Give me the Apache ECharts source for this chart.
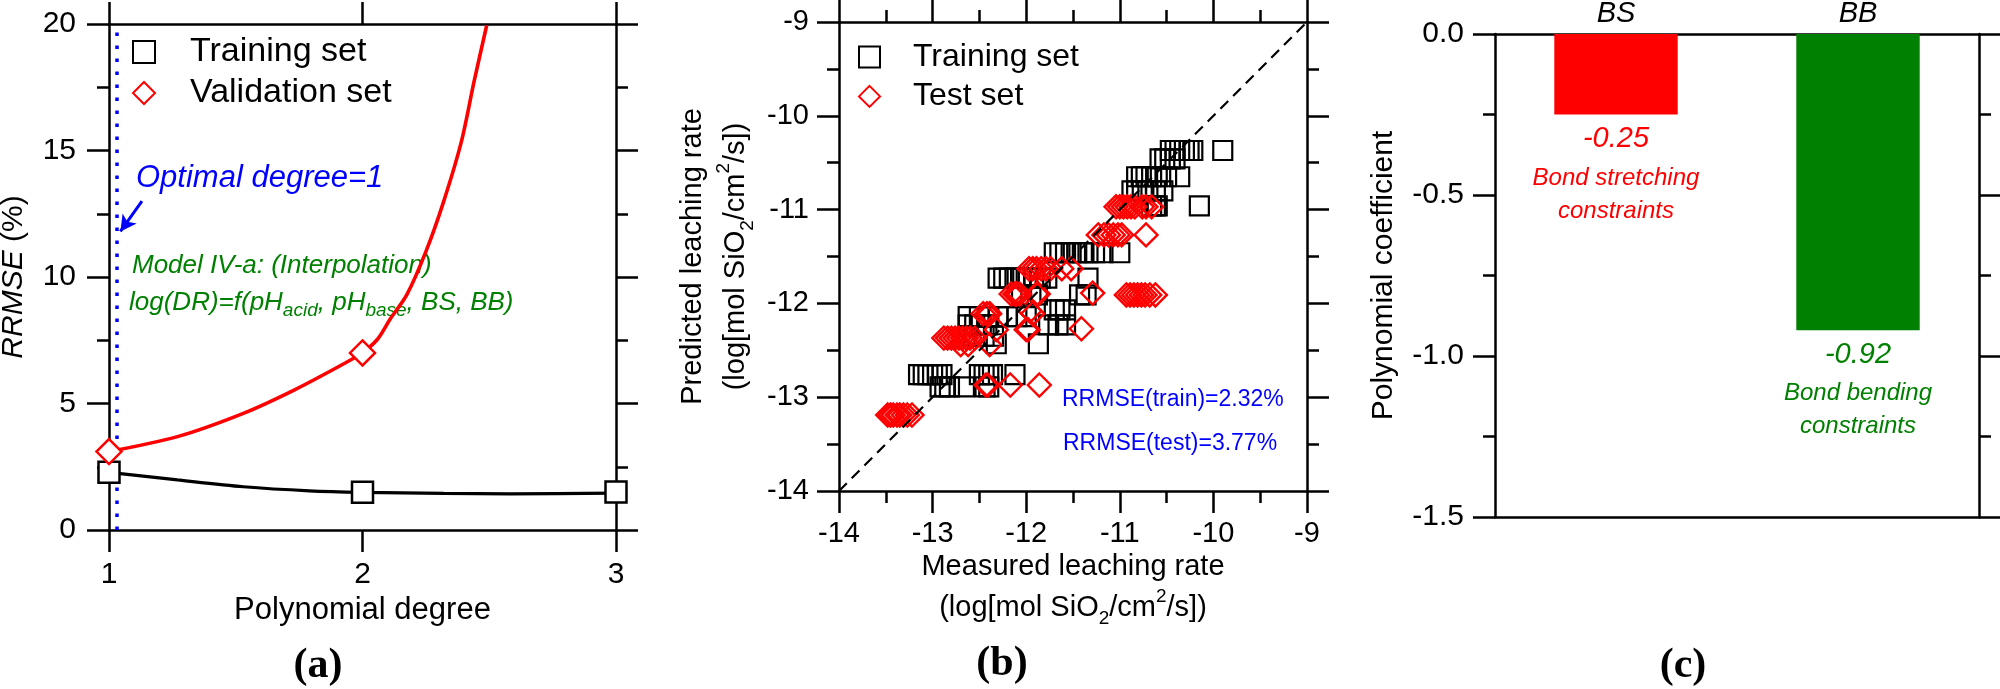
<!DOCTYPE html>
<html>
<head>
<meta charset="utf-8">
<title>RRMSE / leaching rate / coefficients</title>
<script src="https://cdn.jsdelivr.net/npm/echarts/dist/echarts.min.js"></script>
<style>
  html, body { margin: 0; padding: 0; background: #fff; }
  #chart { width: 2000px; height: 689px; }
</style>
</head>
<body>
<div id="chart"></div>
<script>
// ---- (a) RRMSE vs polynomial degree ----
var degrees = [1, 2, 3];
var trainRRMSE = [2.28, 1.49, 1.5];
var validRRMSE = [3.1, 7.0, '-'];          // degree 3 is above the axis range
// fitted curves
var trainCurveX = [1.0, 1.27, 1.53, 1.79, 2.0, 2.32, 2.58, 3.0];
var trainCurveY = [2.28, 1.98, 1.71, 1.55, 1.49, 1.45, 1.43, 1.46];
var validCurveX = [1.0, 1.27, 1.53, 1.73, 1.93, 2.0, 2.06, 2.11, 2.175, 2.25, 2.32, 2.39, 2.44, 2.49];
var validCurveY = [3.1, 3.69, 4.61, 5.53, 6.59, 7.01, 7.55, 8.35, 9.3, 11.0, 12.98, 15.35, 17.72, 19.95];
var optimalLineX = 1.03;
var arrowStart = [1.13, 13.0];
var arrowEnd = [1.045, 11.8];

// ---- (b) predicted vs measured leaching rate ----
var trainMeasured = [
  -10.46, -10.41, -10.36, -10.31, -10.26, -10.22, -9.90,
  -10.57, -10.52, -10.46, -10.41,
  -10.82, -10.77, -10.72, -10.66, -10.60, -10.50, -10.36,
  -10.87, -10.82, -10.76, -10.70, -10.62, -10.54,
  -10.66, -10.62, -10.60, -10.15,
  -11.70, -11.64, -11.58, -11.52, -11.46, -11.40, -11.34, -11.27, -11.18, -11.00,
  -12.30, -12.24, -12.18, -12.12, -12.06, -12.00, -11.92, -11.85, -11.78, -11.34,
  -12.05, -11.95, -11.88, -11.43, -11.36,
  -11.70, -11.64, -11.58,
  -12.62, -12.50, -12.40, -12.30, -12.20, -12.10, -12.00,
  -12.62, -12.55, -12.48, -12.42, -11.76, -11.66, -11.58,
  -12.55, -12.45, -12.35,
  -12.32, -11.87,
  -13.15, -13.10, -13.05, -13.00, -12.95, -12.90, -12.50, -12.45, -12.40, -12.36, -12.12,
  -12.92, -12.87, -12.82, -12.66, -12.44, -12.40
];
var trainPredicted = [
  -10.37, -10.37, -10.37, -10.37, -10.37, -10.37, -10.37,
  -10.46, -10.46, -10.46, -10.46,
  -10.65, -10.65, -10.65, -10.65, -10.65, -10.65, -10.65,
  -10.80, -10.80, -10.80, -10.80, -10.80, -10.80,
  -10.96, -10.96, -10.96, -10.96,
  -11.46, -11.46, -11.46, -11.46, -11.46, -11.46, -11.46, -11.46, -11.46, -11.46,
  -11.73, -11.73, -11.73, -11.73, -11.73, -11.73, -11.73, -11.73, -11.73, -11.73,
  -11.91, -11.91, -11.91, -11.91, -11.91,
  -12.07, -12.07, -12.07,
  -12.14, -12.14, -12.14, -12.14, -12.14, -12.14, -12.14,
  -12.23, -12.23, -12.23, -12.23, -12.23, -12.23, -12.23,
  -12.35, -12.35, -12.35,
  -12.43, -12.43,
  -12.76, -12.76, -12.76, -12.76, -12.76, -12.76, -12.76, -12.76, -12.76, -12.76, -12.76,
  -12.89, -12.89, -12.89, -12.89, -12.89, -12.89
];
var testMeasured = [
  -13.48, -13.45, -13.42, -13.38, -13.35, -13.31, -13.27, -13.22,
  -12.43, -12.41, -12.17, -11.86,
  -12.88, -12.84, -12.80, -12.76, -12.72, -12.68, -12.64, -12.60, -12.55,
  -12.70, -12.62, -12.39,
  -12.32, -12.00, -11.98, -11.41,
  -12.46, -12.42, -12.39, -11.93, -11.96,
  -12.16, -12.12, -12.10, -12.07, -11.89, -11.87, -11.29,
  -10.93, -10.89, -10.85, -10.81, -10.77, -10.73, -10.68, -10.62,
  -11.97, -11.93, -11.89, -11.84, -11.79, -11.74, -11.62, -11.52,
  -11.23, -11.17, -11.12, -11.07, -11.02, -10.98, -10.72,
  -11.04, -11.00, -10.96, -10.92, -10.88, -10.84, -10.76, -10.72, -10.66
];
var testPredicted = [
  -13.19, -13.19, -13.19, -13.19, -13.19, -13.19, -13.19, -13.19,
  -12.87, -12.87, -12.87, -12.87,
  -12.37, -12.37, -12.37, -12.37, -12.37, -12.37, -12.37, -12.37, -12.37,
  -12.44, -12.44, -12.44,
  -12.28, -12.28, -12.28, -12.27,
  -12.11, -12.11, -12.11, -12.11, -12.08,
  -11.90, -11.90, -11.90, -11.90, -11.90, -11.90, -11.89,
  -11.91, -11.91, -11.91, -11.91, -11.91, -11.91, -11.91, -11.91,
  -11.63, -11.63, -11.63, -11.63, -11.63, -11.63, -11.63, -11.63,
  -11.27, -11.27, -11.27, -11.27, -11.27, -11.27, -11.27,
  -10.97, -10.97, -10.97, -10.97, -10.97, -10.97, -10.97, -10.97, -10.97
];
var diagonal = [-14, -9];

// ---- (c) polynomial coefficients ----
var coefNames = ['BS', 'BB'];
var coefValues = [-0.25, -0.92];
var coefDesc = ['Bond stretching\nconstraints', 'Bond bending\nconstraints'];

var FONT = 'Liberation Sans';
var RED = '#ff0000', GREEN = '#008000', BLUE = '#0000ff';

function zip(xs, ys) {
  return xs.map(function (x, i) { return [x, ys[i]]; });
}

var axisLine = { show: true, onZero: false, lineStyle: { color: '#000', width: 2.5 } };
var majorTick = { show: true, length: 22, lineStyle: { color: '#000', width: 2.5 } };
var minorTick = { show: true, splitNumber: 2, length: 12, lineStyle: { color: '#000', width: 2.5 } };
var noSplit = { show: false };
function tickLabel(size, margin) {
  return { show: true, color: '#000', fontFamily: FONT, fontSize: size, margin: margin };
}
var subSup = {
  sub: { fontFamily: FONT, fontSize: 19, color: '#000', lineHeight: 14, verticalAlign: 'bottom' },
  sup: { fontFamily: FONT, fontSize: 19, color: '#000', lineHeight: 12, verticalAlign: 'top' }
};
var unitName = '(log[mol SiO{sub|2}/cm{sup|2}/s])';

var chart = echarts.init(document.getElementById('chart'));

var option = {
  animation: false,
  backgroundColor: '#fff',
  grid: [
    { left: 109, top: 24, width: 507, height: 506, outerBoundsMode: 'none' },
    { left: 839, top: 22, width: 468, height: 469, outerBoundsMode: 'none' },
    { left: 1495, top: 34, width: 484, height: 483, outerBoundsMode: 'none' }
  ],
  legend: [
    {
      data: ['Training set', 'Validation set'],
      orient: 'vertical', left: 132, top: 32, padding: 0,
      itemWidth: 22, itemHeight: 22, itemGap: 1, selectedMode: false,
      textStyle: { fontFamily: FONT, fontSize: 34, color: '#000', lineHeight: 40, padding: [0, 0, 0, 30] }
    },
    {
      data: ['Training set', 'Test set'],
      orient: 'vertical', left: 858, top: 38, padding: 0,
      itemWidth: 21, itemHeight: 21, itemGap: 1.4, selectedMode: false,
      textStyle: { fontFamily: FONT, fontSize: 32, color: '#000', lineHeight: 38, padding: [0, 0, 0, 28] }
    }
  ],
  xAxis: [
    {
      gridIndex: 0, type: 'value', min: 1, max: 3, interval: 1, position: 'bottom',
      axisLine: axisLine, axisTick: majorTick, axisLabel: tickLabel(30, 30), splitLine: noSplit,
      name: 'Polynomial degree', nameLocation: 'middle', nameGap: 65, nameMoveOverlap: false,
      nameTextStyle: { fontFamily: FONT, fontSize: 31, color: '#000', lineHeight: 31 }
    },
    {
      gridIndex: 0, type: 'value', min: 1, max: 3, interval: 1, position: 'top',
      axisLine: axisLine, axisTick: majorTick, axisLabel: { show: false }, splitLine: noSplit
    },
    {
      gridIndex: 1, type: 'value', min: -14, max: -9, interval: 1, position: 'bottom',
      axisLine: axisLine, axisTick: majorTick, minorTick: minorTick, axisLabel: tickLabel(29, 28),
      splitLine: noSplit, minorSplitLine: noSplit,
      name: 'Measured leaching rate\n' + unitName, nameLocation: 'middle', nameGap: 55, nameMoveOverlap: false,
      nameTextStyle: { fontFamily: FONT, fontSize: 29, color: '#000', lineHeight: 41, rich: subSup }
    },
    {
      gridIndex: 1, type: 'value', min: -14, max: -9, interval: 1, position: 'top',
      axisLine: axisLine, axisTick: majorTick, minorTick: minorTick, axisLabel: { show: false },
      splitLine: noSplit, minorSplitLine: noSplit
    },
    {
      gridIndex: 2, type: 'category', data: coefNames, position: 'top',
      axisLine: axisLine, axisTick: { show: false }, splitLine: noSplit,
      axisLabel: { show: true, color: '#000', fontFamily: FONT, fontStyle: 'italic', fontSize: 29, margin: 6 }
    },
    {
      gridIndex: 2, type: 'category', data: coefNames, position: 'bottom',
      axisLine: axisLine, axisTick: { show: false }, axisLabel: { show: false }, splitLine: noSplit
    }
  ],
  yAxis: [
    {
      gridIndex: 0, type: 'value', min: 0, max: 20, interval: 5, position: 'left',
      axisLine: axisLine, axisTick: majorTick, minorTick: minorTick, axisLabel: tickLabel(30, 33),
      splitLine: noSplit, minorSplitLine: noSplit,
      name: '{i|RRMSE} (%)', nameLocation: 'middle', nameGap: 80, nameMoveOverlap: false,
      nameTextStyle: {
        fontFamily: FONT, fontSize: 30, color: '#000', lineHeight: 30,
        rich: { i: { fontFamily: FONT, fontSize: 30, fontStyle: 'italic', color: '#000', lineHeight: 30 } }
      }
    },
    {
      gridIndex: 0, type: 'value', min: 0, max: 20, interval: 5, position: 'right',
      axisLine: axisLine, axisTick: majorTick, minorTick: minorTick, axisLabel: { show: false },
      splitLine: noSplit, minorSplitLine: noSplit
    },
    {
      gridIndex: 1, type: 'value', min: -14, max: -9, interval: 1, position: 'left',
      axisLine: axisLine, axisTick: majorTick, minorTick: minorTick, axisLabel: tickLabel(29, 30),
      splitLine: noSplit, minorSplitLine: noSplit,
      name: 'Predicted leaching rate\n' + unitName, nameLocation: 'middle', nameGap: 82, nameMoveOverlap: false,
      nameTextStyle: { fontFamily: FONT, fontSize: 29, color: '#000', lineHeight: 43, rich: subSup }
    },
    {
      gridIndex: 1, type: 'value', min: -14, max: -9, interval: 1, position: 'right',
      axisLine: axisLine, axisTick: majorTick, minorTick: minorTick, axisLabel: { show: false },
      splitLine: noSplit, minorSplitLine: noSplit
    },
    {
      gridIndex: 2, type: 'value', min: -1.5, max: 0, interval: 0.5, position: 'left',
      axisLine: axisLine, axisTick: majorTick, minorTick: minorTick,
      axisLabel: {
        show: true, color: '#000', fontFamily: FONT, fontSize: 30, margin: 31,
        formatter: function (v) { return v.toFixed(1); }
      },
      splitLine: noSplit, minorSplitLine: noSplit,
      name: 'Polynomial coefficient', nameLocation: 'middle', nameGap: 96, nameMoveOverlap: false,
      nameTextStyle: { fontFamily: FONT, fontSize: 30, color: '#000', lineHeight: 30 }
    },
    {
      gridIndex: 2, type: 'value', min: -1.5, max: 0, interval: 0.5, position: 'right',
      axisLine: axisLine, axisTick: majorTick, minorTick: minorTick, axisLabel: { show: false },
      splitLine: noSplit, minorSplitLine: noSplit
    }
  ],
  series: [
    {
      name: 'training fit', type: 'line', xAxisIndex: 0, yAxisIndex: 0,
      data: zip(trainCurveX, trainCurveY), smooth: 0.3, symbol: 'none', silent: true,
      lineStyle: { color: '#000', width: 3.2 },
      markLine: {
        silent: true, symbol: 'none', label: { show: false },
        lineStyle: { color: BLUE, width: 3.5, type: [3.5, 9.5], cap: 'butt' },
        data: [{ xAxis: optimalLineX }]
      }
    },
    {
      name: 'validation fit', type: 'line', xAxisIndex: 0, yAxisIndex: 0,
      data: zip(validCurveX, validCurveY), smooth: 0.3, symbol: 'none', silent: true,
      lineStyle: { color: RED, width: 3.6 },
      markLine: {
        silent: true, label: { show: false },
        lineStyle: { color: BLUE, width: 3, type: 'solid' },
        data: [[
          { coord: arrowStart, symbol: 'none' },
          { coord: arrowEnd, symbol: 'arrow', symbolSize: [13, 16] }
        ]]
      }
    },
    {
      name: 'Training set', type: 'scatter', xAxisIndex: 0, yAxisIndex: 0,
      data: zip(degrees, trainRRMSE), symbol: 'rect', symbolSize: 21, z: 5,
      itemStyle: { color: '#fff', borderColor: '#000', borderWidth: 2.5, opacity: 1 }
    },
    {
      name: 'Validation set', type: 'scatter', xAxisIndex: 0, yAxisIndex: 0,
      data: zip(degrees, validRRMSE), symbol: 'diamond', symbolSize: 25, z: 5,
      itemStyle: { color: '#fff', borderColor: RED, borderWidth: 2.5, opacity: 1 }
    },
    {
      name: '1:1', type: 'line', xAxisIndex: 2, yAxisIndex: 2,
      data: [[diagonal[0], diagonal[0]], [diagonal[1], diagonal[1]]], symbol: 'none', silent: true,
      lineStyle: { color: '#000', width: 2.2, type: [11, 7] }
    },
    {
      name: 'Training set', type: 'scatter', xAxisIndex: 2, yAxisIndex: 2,
      data: zip(trainMeasured, trainPredicted), symbol: 'rect', symbolSize: 19,
      itemStyle: { color: 'rgba(255,255,255,0)', borderColor: '#000', borderWidth: 2.2, opacity: 1 }
    },
    {
      name: 'Test set', type: 'scatter', xAxisIndex: 2, yAxisIndex: 2,
      data: zip(testMeasured, testPredicted), symbol: 'diamond', symbolSize: 23,
      itemStyle: { color: 'rgba(255,255,255,0)', borderColor: RED, borderWidth: 2.4, opacity: 1 }
    },
    {
      name: 'coefficient', type: 'bar', xAxisIndex: 4, yAxisIndex: 4, barWidth: '51%',
      data: coefValues.map(function (v, i) {
        var c = i === 0 ? RED : GREEN;
        return { value: v, itemStyle: { color: c }, label: { color: c } };
      }),
      label: {
        show: true, position: 'bottom', distance: 2,
        formatter: function (p) {
          return '{v|' + p.value.toFixed(2) + '}\n{d|' + coefDesc[p.dataIndex].split('\n').join('}\n{d|') + '}';
        },
        rich: {
          v: { fontFamily: FONT, fontStyle: 'italic', fontSize: 29, lineHeight: 45 },
          d: { fontFamily: FONT, fontStyle: 'italic', fontSize: 24, lineHeight: 33 }
        }
      }
    }
  ],
  graphic: [
    { type: 'text', x: 136, y: 178, style: { text: 'Optimal degree=1', fontFamily: FONT, fontStyle: 'italic', fontSize: 31, fill: BLUE, verticalAlign: 'middle', textVerticalAlign: 'middle' } },
    { type: 'text', x: 132, y: 266, style: { text: 'Model IV-a: (Interpolation)', fontFamily: FONT, fontStyle: 'italic', fontSize: 26, fill: GREEN, verticalAlign: 'middle', textVerticalAlign: 'middle' } },
    {
      type: 'text', x: 129, y: 303,
      style: {
        text: 'log(DR)=f(pH{s|acid}, pH{s|base}, BS, BB)', fontFamily: FONT, fontStyle: 'italic', fontSize: 26,
        lineHeight: 34, fill: GREEN, verticalAlign: 'middle', textVerticalAlign: 'middle',
        rich: { s: { fontFamily: FONT, fontStyle: 'italic', fontSize: 19, lineHeight: 14, verticalAlign: 'bottom', fill: GREEN } }
      }
    },
    { type: 'text', x: 1062, y: 400, style: { text: 'RRMSE(train)=2.32%', fontFamily: FONT, fontSize: 23, fill: BLUE, verticalAlign: 'middle', textVerticalAlign: 'middle' } },
    { type: 'text', x: 1063, y: 444, style: { text: 'RRMSE(test)=3.77%', fontFamily: FONT, fontSize: 23, fill: BLUE, verticalAlign: 'middle', textVerticalAlign: 'middle' } },
    { type: 'text', x: 318, y: 666, style: { text: '(a)', fontFamily: 'Liberation Serif', fontWeight: 'bold', fontSize: 42, fill: '#000', align: 'center', textAlign: 'center', verticalAlign: 'middle', textVerticalAlign: 'middle' } },
    { type: 'text', x: 1002, y: 664, style: { text: '(b)', fontFamily: 'Liberation Serif', fontWeight: 'bold', fontSize: 42, fill: '#000', align: 'center', textAlign: 'center', verticalAlign: 'middle', textVerticalAlign: 'middle' } },
    { type: 'text', x: 1683, y: 666, style: { text: '(c)', fontFamily: 'Liberation Serif', fontWeight: 'bold', fontSize: 42, fill: '#000', align: 'center', textAlign: 'center', verticalAlign: 'middle', textVerticalAlign: 'middle' } }
  ]
};

chart.setOption(option);
</script>
</body>
</html>
